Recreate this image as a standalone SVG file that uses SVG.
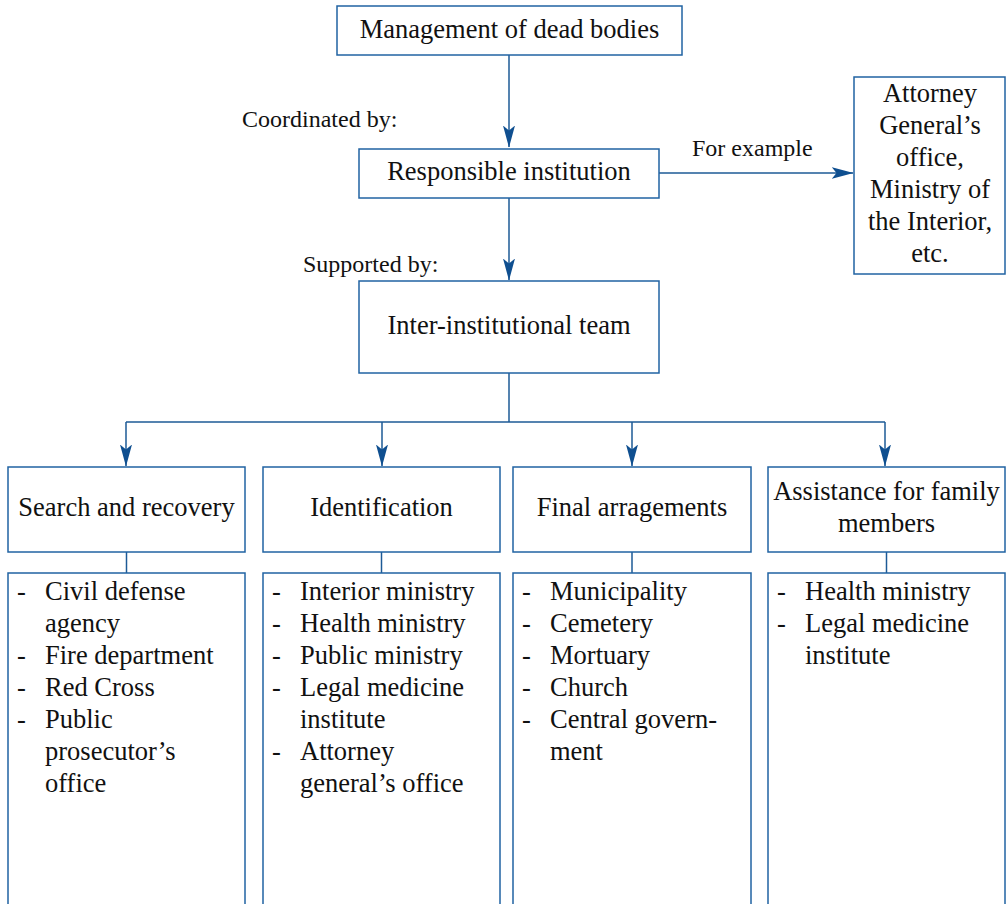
<svg xmlns="http://www.w3.org/2000/svg" width="1006" height="904" viewBox="0 0 1006 904">
<style>
.box{fill:#fff;stroke:#2163a3;stroke-width:1.5}
.ln{fill:none;stroke:#1d5a96;stroke-width:1.5}
text{font-family:"Liberation Serif","Times New Roman",serif;fill:#111}
.n{font-size:26.5px;text-anchor:middle}
.l{font-size:24px}
.t{font-size:26.5px}
</style>
<defs>
<marker id="ah" markerUnits="userSpaceOnUse" markerWidth="22" markerHeight="13" viewBox="0 0 22 13" refX="21.5" refY="6.5" orient="auto">
<path d="M0,0.5 L22,6.5 L0,12.5 L5,6.5 z" fill="#0f4f90"/>
</marker>
</defs>
<rect width="1006" height="904" fill="#fff"/>
<g id="connectors">
<line class="ln" x1="509" y1="55" x2="509" y2="147" marker-end="url(#ah)"/>
<line class="ln" x1="659" y1="173" x2="853" y2="173" marker-end="url(#ah)"/>
<line class="ln" x1="509" y1="198" x2="509" y2="280" marker-end="url(#ah)"/>
<polyline class="ln" points="509,373 509,422"/>
<line class="ln" x1="126" y1="422" x2="885" y2="422"/>
<line class="ln" x1="126" y1="422" x2="126" y2="466" marker-end="url(#ah)"/>
<line class="ln" x1="382" y1="422" x2="382" y2="466" marker-end="url(#ah)"/>
<line class="ln" x1="632" y1="422" x2="632" y2="466" marker-end="url(#ah)"/>
<line class="ln" x1="885" y1="422" x2="885" y2="466" marker-end="url(#ah)"/>
<line class="ln" x1="126.5" y1="552" x2="126.5" y2="573"/>
<line class="ln" x1="381.5" y1="552" x2="381.5" y2="573"/>
<line class="ln" x1="632" y1="552" x2="632" y2="573"/>
<line class="ln" x1="886.5" y1="552" x2="886.5" y2="573"/>
<text class="l" x="242" y="127">Coordinated by:</text>
<text class="l" x="692" y="156">For example</text>
<text class="l" x="303" y="272">Supported by:</text>
</g>
<g id="management">
<rect class="box" x="337" y="6" width="345" height="49"/>
<text class="n" x="509.5" y="38">Management of dead bodies</text>
</g>
<g id="responsible">
<rect class="box" x="359" y="149" width="300" height="49"/>
<text class="n" x="509" y="180">Responsible institution</text>
</g>
<g id="attorney">
<rect class="box" x="854" y="77" width="151" height="197"/>
<text class="n" x="930" y="102">Attorney</text>
<text class="n" x="930" y="134">General’s</text>
<text class="n" x="930" y="166">office,</text>
<text class="n" x="930" y="198">Ministry of</text>
<text class="n" x="930" y="230">the Interior,</text>
<text class="n" x="930" y="262">etc.</text>
</g>
<g id="team">
<rect class="box" x="359" y="281" width="300" height="92"/>
<text class="n" x="509" y="334">Inter-institutional team</text>
</g>
<g id="search">
<rect class="box" x="8" y="467" width="237" height="85"/>
<text class="n" x="126.5" y="516">Search and recovery</text>
</g>
<g id="identification">
<rect class="box" x="263" y="467" width="237" height="85"/>
<text class="n" x="381.5" y="516">Identification</text>
</g>
<g id="final">
<rect class="box" x="513" y="467" width="238" height="85"/>
<text class="n" x="632" y="516">Final arragements</text>
</g>
<g id="assistance">
<rect class="box" x="768" y="467" width="237" height="85"/>
<text class="n" x="886.5" y="500">Assistance for family</text>
<text class="n" x="886.5" y="532">members</text>
</g>
<g id="search-list">
<rect class="box" x="8" y="573" width="237" height="340"/>
<text class="t" x="17" y="600">-</text><text class="t" x="45" y="600">Civil defense</text>
<text class="t" x="45" y="632">agency</text>
<text class="t" x="17" y="664">-</text><text class="t" x="45" y="664">Fire department</text>
<text class="t" x="17" y="696">-</text><text class="t" x="45" y="696">Red Cross</text>
<text class="t" x="17" y="728">-</text><text class="t" x="45" y="728">Public</text>
<text class="t" x="45" y="760">prosecutor’s</text>
<text class="t" x="45" y="792">office</text>
</g>
<g id="identification-list">
<rect class="box" x="263" y="573" width="237" height="340"/>
<text class="t" x="272" y="600">-</text><text class="t" x="300" y="600">Interior ministry</text>
<text class="t" x="272" y="632">-</text><text class="t" x="300" y="632">Health ministry</text>
<text class="t" x="272" y="664">-</text><text class="t" x="300" y="664">Public ministry</text>
<text class="t" x="272" y="696">-</text><text class="t" x="300" y="696">Legal medicine</text>
<text class="t" x="300" y="728">institute</text>
<text class="t" x="272" y="760">-</text><text class="t" x="300" y="760">Attorney</text>
<text class="t" x="300" y="792">general’s office</text>
</g>
<g id="final-list">
<rect class="box" x="513" y="573" width="238" height="340"/>
<text class="t" x="522" y="600">-</text><text class="t" x="550" y="600">Municipality</text>
<text class="t" x="522" y="632">-</text><text class="t" x="550" y="632">Cemetery</text>
<text class="t" x="522" y="664">-</text><text class="t" x="550" y="664">Mortuary</text>
<text class="t" x="522" y="696">-</text><text class="t" x="550" y="696">Church</text>
<text class="t" x="522" y="728">-</text><text class="t" x="550" y="728">Central govern-</text>
<text class="t" x="550" y="760">ment</text>
</g>
<g id="assistance-list">
<rect class="box" x="768" y="573" width="237" height="340"/>
<text class="t" x="777" y="600">-</text><text class="t" x="805" y="600">Health ministry</text>
<text class="t" x="777" y="632">-</text><text class="t" x="805" y="632">Legal medicine</text>
<text class="t" x="805" y="664">institute</text>
</g>
</svg>
